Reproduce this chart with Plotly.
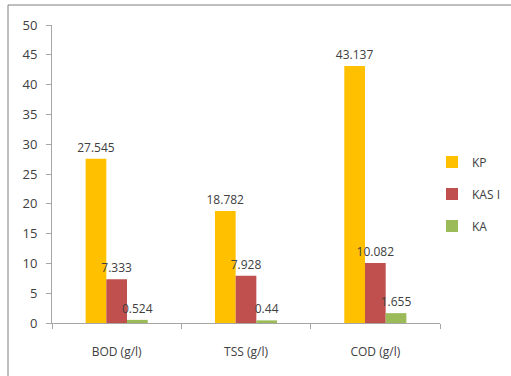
import plotly.graph_objects as go

categories = ["BOD (g/l)", "TSS (g/l)", "COD (g/l)"]
series_names = ["KP", "KAS I", "KA"]
kp = [27.545, 18.782, 43.137]
kas = [7.333, 7.928, 10.082]
ka = [0.524, 0.44, 1.655]
colors = ["#FFC000", "#C0504D", "#9BBB59"]
y_ticks = [0, 5, 10, 15, 20, 25, 30, 35, 40, 45, 50]

font_family = "Open Sans, Lato, sans-serif"
txt_color = "#404040"

fig = go.Figure()
for name, vals, col in zip(series_names, [kp, kas, ka], colors):
    fig.add_trace(go.Bar(
        x=categories, y=vals, name=name, marker_color=col,
        marker_line_width=0, legendgroup=name,
        text=[str(v) for v in vals], textposition="outside",
        constraintext="none",
        textfont=dict(family=font_family, size=12, color=txt_color),
        cliponaxis=False,
    ))

fig.update_layout(
    width=511, height=376,
    margin=dict(l=52, r=71, t=25, b=53, autoexpand=False),
    paper_bgcolor="white", plot_bgcolor="white",
    barmode="group", bargap=0.52, bargroupgap=0,
    font=dict(family=font_family, size=12, color=txt_color),
    legend=dict(xref="container", yref="container",
                x=432 / 511, xanchor="left", y=1 - 194 / 376, yanchor="middle",
                font=dict(size=12, color=txt_color),
                itemwidth=30, tracegroupgap=13,
                bgcolor="rgba(0,0,0,0)"),
    showlegend=True,
    shapes=[dict(type="rect", xref="paper", yref="paper",
                 x0=-44 / 388, x1=1.3, y0=-0.3, y1=1 + 20 / 298,
                 line=dict(color="#7f7f7f", width=1), fillcolor="rgba(0,0,0,0)",
                 layer="below")],
)
fig.update_xaxes(showline=True, linecolor="#a6a6a6", linewidth=1,
                 ticks="outside", tickson="boundaries", ticklen=5, tickcolor="#a6a6a6",
                 ticklabelstandoff=18, showgrid=False,
                 tickfont=dict(family=font_family, size=12, color=txt_color))
fig.update_yaxes(range=[0, 50], tickvals=y_ticks, showline=True, linecolor="#a6a6a6",
                 linewidth=1, ticks="outside", ticklen=5, tickcolor="#a6a6a6",
                 showgrid=False, zeroline=False, ticklabelstandoff=6,
                 tickfont=dict(family=font_family, size=13, color=txt_color))

fig.write_html("out.html")
